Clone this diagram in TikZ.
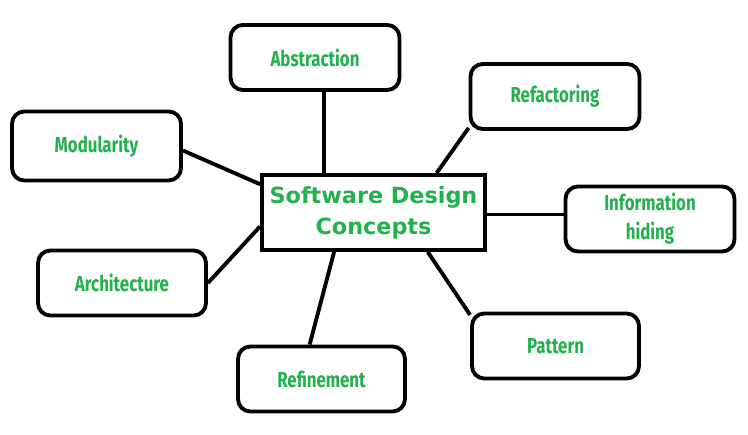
\documentclass[tikz,border=0pt]{standalone}
\usepackage{fontspec}
\newfontfamily\conceptfont{DejaVu Sans}
\newfontfamily\topicfont[FakeStretch=0.78]{Fira Sans}
\definecolor{paintgreen}{RGB}{34,177,76}
\tikzset{
  topic/.style={draw, line width=2.2pt, rounded corners=7pt, text=paintgreen,
    minimum width=3.38cm, minimum height=1.3cm, align=center,
    font=\topicfont\bfseries\fontsize{12.3}{16.5}\selectfont},
  concept/.style={draw, line width=2.2pt, text=paintgreen,
    minimum width=4.46cm, minimum height=1.5cm, align=center,
    font=\conceptfont\bfseries\fontsize{12.7}{17.5}\selectfont},
  link/.style={line width=2.2pt}
}

\begin{document}
\begin{tikzpicture}[x=0.02cm,y=-0.02cm]
  \useasboundingbox (0,0) rectangle (748,435);
  % centre
  \node[concept] (central) at (373.5,212.5) {Software Design\\Concepts};
  % topics
  \node[topic] (abstraction)  at (315,57.5)    {Abstraction};
  \node[topic] (refactoring)  at (555,96.5)    {Refactoring};
  \node[topic,minimum height=1.38cm] (modularity) at (96.5,146) {Modularity};
  \node[topic] (info)         at (650,219)     {Information\\hiding};
  \node[topic,minimum width=3.36cm] (architecture) at (122,283) {Architecture};
  \node[topic,minimum width=3.34cm] (pattern)      at (555.5,346) {Pattern};
  \node[topic,minimum width=3.34cm] (refinement)   at (321.5,379) {Refinement};
  % links
  \draw[link] (abstraction.-76) -- (abstraction.-76 |- central.north);
  \draw[link] (refactoring.200) -- (central.32.2);
  \draw[link] (modularity.-3) -- (central.166);
  \draw[link] (central.-1.3) -- (central.-1.3 -| info.west);
  \draw[link] (architecture.east) -- (central.187.4);
  \draw[link] (central.225.8) -- (refinement.109.2);
  \draw[link] (central.-36.1) -- (pattern.160.6);
\end{tikzpicture}
\end{document}
